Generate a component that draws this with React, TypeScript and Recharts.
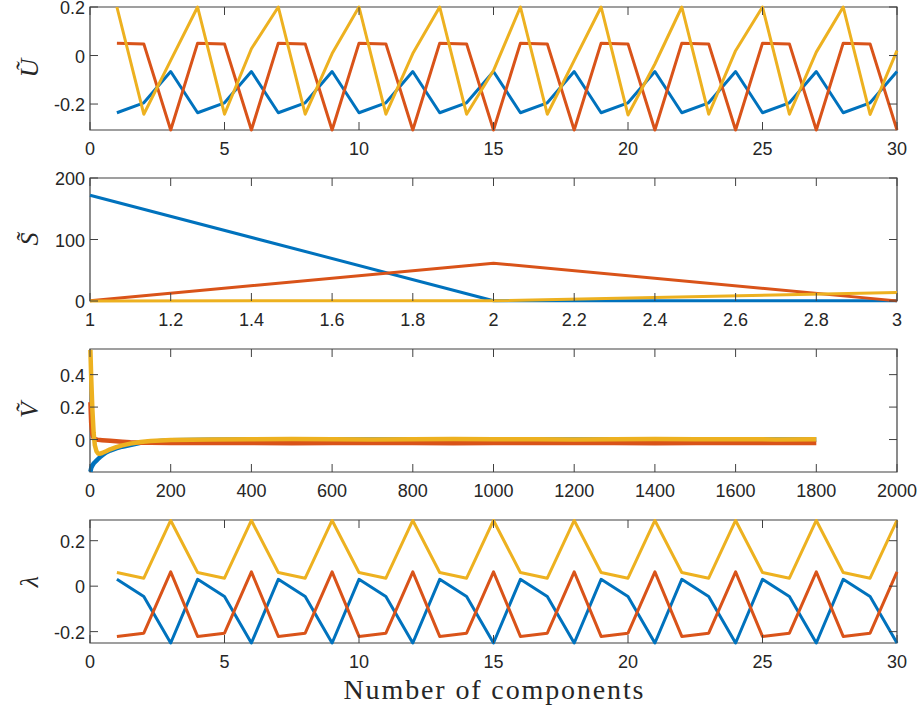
import React from 'react'
import { LineChart, Line, XAxis, YAxis, ReferenceArea } from 'recharts'

// MATLAB default colour order
const BLUE = '#0072BD'
const RED = '#D95319'
const YELLOW = '#EDB120'
const AXIS = '#404040'
const TEXT = '#262626'

// panel 1 + 4: number of components
const compIdx = [1, 2, 3, 4, 5, 6, 7, 8, 9, 10, 11, 12, 13, 14, 15, 16, 17, 18, 19, 20, 21, 22, 23, 24, 25, 26, 27, 28, 29, 30]

const uBlue = [
  -0.236, -0.195, -0.066, -0.236, -0.195, -0.066, -0.236, -0.195, -0.066, -0.236,
  -0.195, -0.066, -0.236, -0.195, -0.066, -0.236, -0.195, -0.066, -0.236, -0.195,
  -0.066, -0.236, -0.195, -0.066, -0.236, -0.195, -0.066, -0.236, -0.195, -0.066,
]
const uRed = [
  0.051, 0.048, -0.307, 0.051, 0.048, -0.307, 0.051, 0.048, -0.307, 0.051,
  0.048, -0.307, 0.051, 0.048, -0.307, 0.051, 0.048, -0.307, 0.051, 0.048,
  -0.307, 0.051, 0.048, -0.307, 0.051, 0.048, -0.307, 0.051, 0.048, -0.307,
]
const uYellow = [
  0.2, -0.242, -0.02, 0.2, -0.242, 0.028, 0.2, -0.242, 0.008, 0.2,
  -0.242, 0.008, 0.2, -0.242, -0.062, 0.2, -0.242, -0.02, 0.2, -0.245,
  -0.035, 0.2, -0.242, 0.02, 0.2, -0.242, 0.014, 0.2, -0.243, 0.02,
]

// panel 2: S tilde
const sIdx = [1, 2, 3]
const sBlue = [172, 0.5, 0.3]
const sRed = [0.5, 61.5, 0.2]
const sYellow = [0.2, 0.4, 14]

// panel 3: V tilde (rows 1..1800)
const vIdx = [1, 3, 6, 9, 12, 16, 20, 25, 30, 40, 50, 65, 80, 100, 125, 150, 200, 300, 400, 500, 600, 700, 800, 900, 1000, 1100, 1200, 1300, 1400, 1500, 1600, 1700, 1800]
const vBlue = [-0.198, -0.175, -0.16, -0.148, -0.14, -0.13, -0.12, -0.108, -0.098, -0.08, -0.068, -0.054, -0.044, -0.034, -0.02, -0.013, -0.005, -0.001, 0.0, 0.001, 0.0, 0.001, 0.0, 0.0, 0.001, 0.0, 0.001, 0.0, 0.0, 0.001, 0.0, 0.001, 0.0]
const vRed = [0.23, 0.1, 0.03, 0.01, 0.004, 0.0, -0.002, -0.003, -0.004, -0.006, -0.008, -0.011, -0.014, -0.017, -0.019, -0.02, -0.021, -0.022, -0.021, -0.023, -0.022, -0.021, -0.022, -0.023, -0.022, -0.021, -0.022, -0.022, -0.023, -0.021, -0.022, -0.022, -0.022]
const vYellow = [0.553, 0.38, 0.18, 0.04, -0.035, -0.072, -0.086, -0.087, -0.083, -0.072, -0.06, -0.047, -0.036, -0.025, -0.015, -0.009, -0.003, 0.001, 0.002, 0.003, 0.002, 0.001, 0.002, 0.003, 0.002, 0.002, 0.001, 0.002, 0.003, 0.002, 0.002, 0.001, 0.002]

// panel 4: lambda
const lBlue = [
  0.03, -0.045, -0.25, 0.03, -0.045, -0.25, 0.03, -0.045, -0.25, 0.03,
  -0.045, -0.25, 0.03, -0.045, -0.25, 0.03, -0.045, -0.25, 0.03, -0.045,
  -0.25, 0.03, -0.045, -0.25, 0.03, -0.045, -0.25, 0.03, -0.045, -0.25,
]
const lRed = [
  -0.221, -0.207, 0.063, -0.221, -0.207, 0.063, -0.221, -0.207, 0.063, -0.221,
  -0.207, 0.063, -0.221, -0.207, 0.063, -0.221, -0.207, 0.063, -0.221, -0.207,
  0.063, -0.221, -0.207, 0.063, -0.221, -0.207, 0.063, -0.221, -0.207, 0.063,
]
const lYellow = [
  0.06, 0.035, 0.289, 0.06, 0.035, 0.289, 0.06, 0.035, 0.289, 0.06,
  0.035, 0.289, 0.06, 0.035, 0.289, 0.06, 0.035, 0.289, 0.06, 0.035,
  0.289, 0.06, 0.035, 0.289, 0.06, 0.035, 0.289, 0.06, 0.035, 0.289,
]

// tick labels
const compTicks = [0, 5, 10, 15, 20, 25, 30]
const sTicksX = [1, 1.2, 1.4, 1.6, 1.8, 2, 2.2, 2.4, 2.6, 2.8, 3]
const vTicksX = [0, 200, 400, 600, 800, 1000, 1200, 1400, 1600, 1800, 2000]
const uTicksY = [-0.2, 0, 0.2]
const sTicksY = [0, 100, 200]
const vTicksY = [0, 0.2, 0.4]
const lTicksY = [-0.2, 0, 0.2]

const zip = (xs: number[], b: number[], r: number[], y: number[]) =>
  xs.map((x, i) => ({ x, b: b[i], r: r[i], y: y[i] }))

const W = 920
const LEFT = 90
const RIGHT = 23
const PW = W - LEFT - RIGHT
const PH = 123
const PAD = 10
const TICK = 8

const tickFont = "'Liberation Sans', Arial, Helvetica, sans-serif"

function XTick(props: any) {
  const { x, y, payload } = props
  return (
    <g>
      <line x1={x} x2={x} y1={y} y2={y - TICK} stroke={AXIS} strokeWidth={1} />
      <line x1={x} x2={x} y1={y - PH} y2={y - PH + TICK} stroke={AXIS} strokeWidth={1} />
      <text x={x} y={y + 25} textAnchor="middle" fontSize={18} fill={TEXT} fontFamily={tickFont}>
        {String(payload.value)}
      </text>
    </g>
  )
}

function YTick(props: any) {
  const { x, y, payload } = props
  return (
    <g>
      <line x1={x} x2={x + TICK} y1={y} y2={y} stroke={AXIS} strokeWidth={1} />
      <line x1={x + PW} x2={x + PW - TICK} y1={y} y2={y} stroke={AXIS} strokeWidth={1} />
      <text x={x - 5} y={y + 7} textAnchor="end" fontSize={18} fill={TEXT} fontFamily={tickFont}>
        {String(payload.value)}
      </text>
    </g>
  )
}

interface PanelProps {
  top: number
  data: { x: number; b: number; r: number; y: number }[]
  xDomain: [number, number]
  yDomain: [number, number]
  xTicks: number[]
  yTicks: number[]
  strokeWidth?: number
}

function Panel({ top, data, xDomain, yDomain, xTicks, yTicks, strokeWidth = 3 }: PanelProps) {
  return (
    <div style={{ position: 'absolute', left: 0, top: top - PAD }}>
      <LineChart width={W} height={PAD + PH + 35} data={data} margin={{ top: PAD, right: RIGHT, bottom: 0, left: 0 }}>
        <XAxis
          dataKey="x"
          type="number"
          domain={xDomain}
          ticks={xTicks}
          interval={0}
          height={35}
          axisLine={false}
          tickLine={false}
          tickSize={0}
          tickMargin={0}
          tick={(p: any) => <XTick {...p} />}
        />
        <YAxis
          type="number"
          domain={yDomain}
          ticks={yTicks}
          interval={0}
          width={LEFT}
          axisLine={false}
          tickLine={false}
          tickSize={0}
          tickMargin={0}
          tick={(p: any) => <YTick {...p} />}
        />
        <ReferenceArea
          x1={xDomain[0]}
          x2={xDomain[1]}
          y1={yDomain[0]}
          y2={yDomain[1]}
          fill="none"
          fillOpacity={0}
          stroke={AXIS}
          strokeWidth={1.2}
        />
        <Line dataKey="b" stroke={BLUE} strokeWidth={strokeWidth} dot={false} isAnimationActive={false} strokeLinejoin="round" />
        <Line dataKey="r" stroke={RED} strokeWidth={strokeWidth} dot={false} isAnimationActive={false} strokeLinejoin="round" />
        <Line dataKey="y" stroke={YELLOW} strokeWidth={strokeWidth} dot={false} isAnimationActive={false} strokeLinejoin="round" />
      </LineChart>
    </div>
  )
}

const labelFont = "'Liberation Serif', 'DejaVu Serif', 'Times New Roman', serif"
const tops = [6.5, 177.5, 348.5, 520]

function YLabel({ text, cy }: { text: string; cy: number }) {
  return (
    <text
      x={38}
      y={cy}
      transform={`rotate(-90, 38, ${cy})`}
      textAnchor="middle"
      fontSize={26}
      fontStyle="italic"
      fill={TEXT}
      fontFamily={labelFont}
    >
      {text}
    </text>
  )
}

export default function App() {
  return (
    <div style={{ position: 'absolute', left: 0, top: 0, width: W, height: 711, background: '#fff' }}>
      <Panel top={tops[0]} data={zip(compIdx, uBlue, uRed, uYellow)} xDomain={[0, 30]} yDomain={[-0.307, 0.2]} xTicks={compTicks} yTicks={uTicksY} />
      <Panel top={tops[1]} data={zip(sIdx, sBlue, sRed, sYellow)} xDomain={[1, 3]} yDomain={[0, 200]} xTicks={sTicksX} yTicks={sTicksY} />
      <Panel top={tops[2]} data={zip(vIdx, vBlue, vRed, vYellow)} xDomain={[0, 2000]} yDomain={[-0.2, 0.558]} xTicks={vTicksX} yTicks={vTicksY} strokeWidth={4.5} />
      <Panel top={tops[3]} data={zip(compIdx, lBlue, lRed, lYellow)} xDomain={[0, 30]} yDomain={[-0.25, 0.291]} xTicks={compTicks} yTicks={lTicksY} />
      <svg width={W} height={711} style={{ position: 'absolute', left: 0, top: 0, pointerEvents: 'none' }}>
        <YLabel text={'\u0168'} cy={tops[0] + PH / 2} />
        <YLabel text={'S\u0303'} cy={tops[1] + PH / 2} />
        <YLabel text={'\u1E7C'} cy={tops[2] + PH / 2} />
        <YLabel text={'\u03BB'} cy={tops[3] + PH / 2} />
        <text
          x={LEFT + PW / 2}
          y={699}
          textAnchor="middle"
          fontSize={28}
          fill={TEXT}
          fontFamily={labelFont}
          textLength={300}
          lengthAdjust="spacing"
        >
          Number of components
        </text>
      </svg>
    </div>
  )
}
